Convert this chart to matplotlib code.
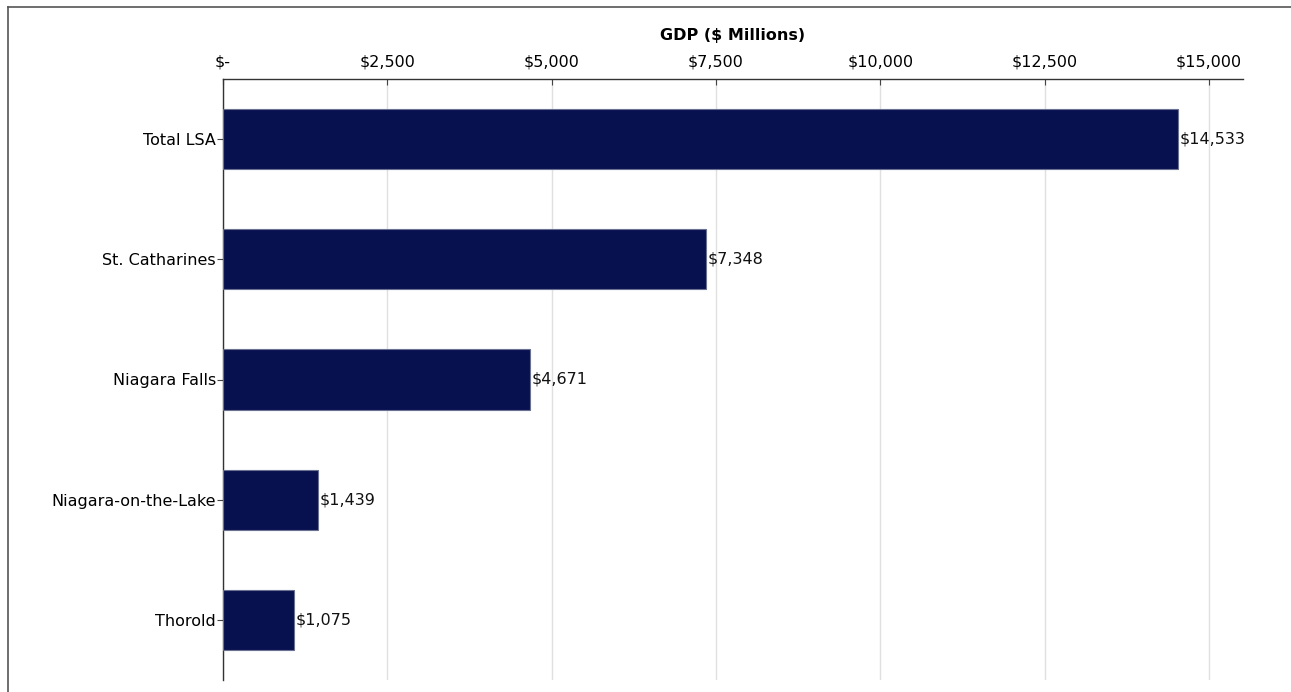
import matplotlib
matplotlib.use("Agg")
import matplotlib.pyplot as plt
from matplotlib.lines import Line2D
from matplotlib.ticker import FuncFormatter

categories = ["Total LSA", "St. Catharines", "Niagara Falls", "Niagara-on-the-Lake", "Thorold"]
gdp_millions = [14533, 7348, 4671, 1439, 1075]
x_ticks = [0, 2500, 5000, 7500, 10000, 12500, 15000]

plt.rcParams["font.family"] = ["DejaVu Sans"]

W, H = 1291, 692
fig = plt.figure(figsize=(W / 100, H / 100), dpi=100)
ax = fig.add_axes([223 / W, 1 - 680 / H, (1243 - 223) / W, (680 - 79) / H])

pos = list(range(len(categories)))
bars = ax.barh(pos, gdp_millions, height=0.5, color="#08114F",
               edgecolor="#6a7090", linewidth=0.8, zorder=3)

ax.set_ylim(len(categories) - 0.5, -0.5)
ax.set_xlim(0, 15518)
ax.set_yticks(pos)
ax.set_yticklabels(categories, fontsize=11.5)

def money(v, _=None):
    return "$-" if v == 0 else f"${v:,.0f}"

ax.xaxis.tick_top()
ax.xaxis.set_label_position("top")
ax.set_xticks(x_ticks)
ax.xaxis.set_major_formatter(FuncFormatter(money))
ax.tick_params(axis="x", labelsize=11.5, length=4, direction="in", pad=7, color="#444444")
ax.tick_params(axis="y", length=4, direction="out", pad=1, color="#444444")
ax.set_xlabel("GDP ($ Millions)", fontsize=11.5, fontweight="bold", labelpad=10)

ax.grid(axis="x", color="#e0e0e0", linewidth=1, zorder=0)
ax.set_axisbelow(True)
for side in ("right", "bottom"):
    ax.spines[side].set_visible(False)
for side in ("top", "left"):
    ax.spines[side].set_color("#333333")
    ax.spines[side].set_linewidth(1)

for b, v in zip(bars, gdp_millions):
    ax.text(v + 25, b.get_y() + b.get_height() / 2, money(v),
            va="center", ha="left", fontsize=11.5, color="#111111")

# outer frame lines (left and top)
fig.add_artist(Line2D([8 / W, 8 / W], [0, 1 - 7 / H], transform=fig.transFigure,
                      color="#555555", linewidth=1.2))
fig.add_artist(Line2D([8 / W, 1], [1 - 7 / H, 1 - 7 / H], transform=fig.transFigure,
                      color="#555555", linewidth=1.2))

fig.savefig("out.png", dpi=100)
